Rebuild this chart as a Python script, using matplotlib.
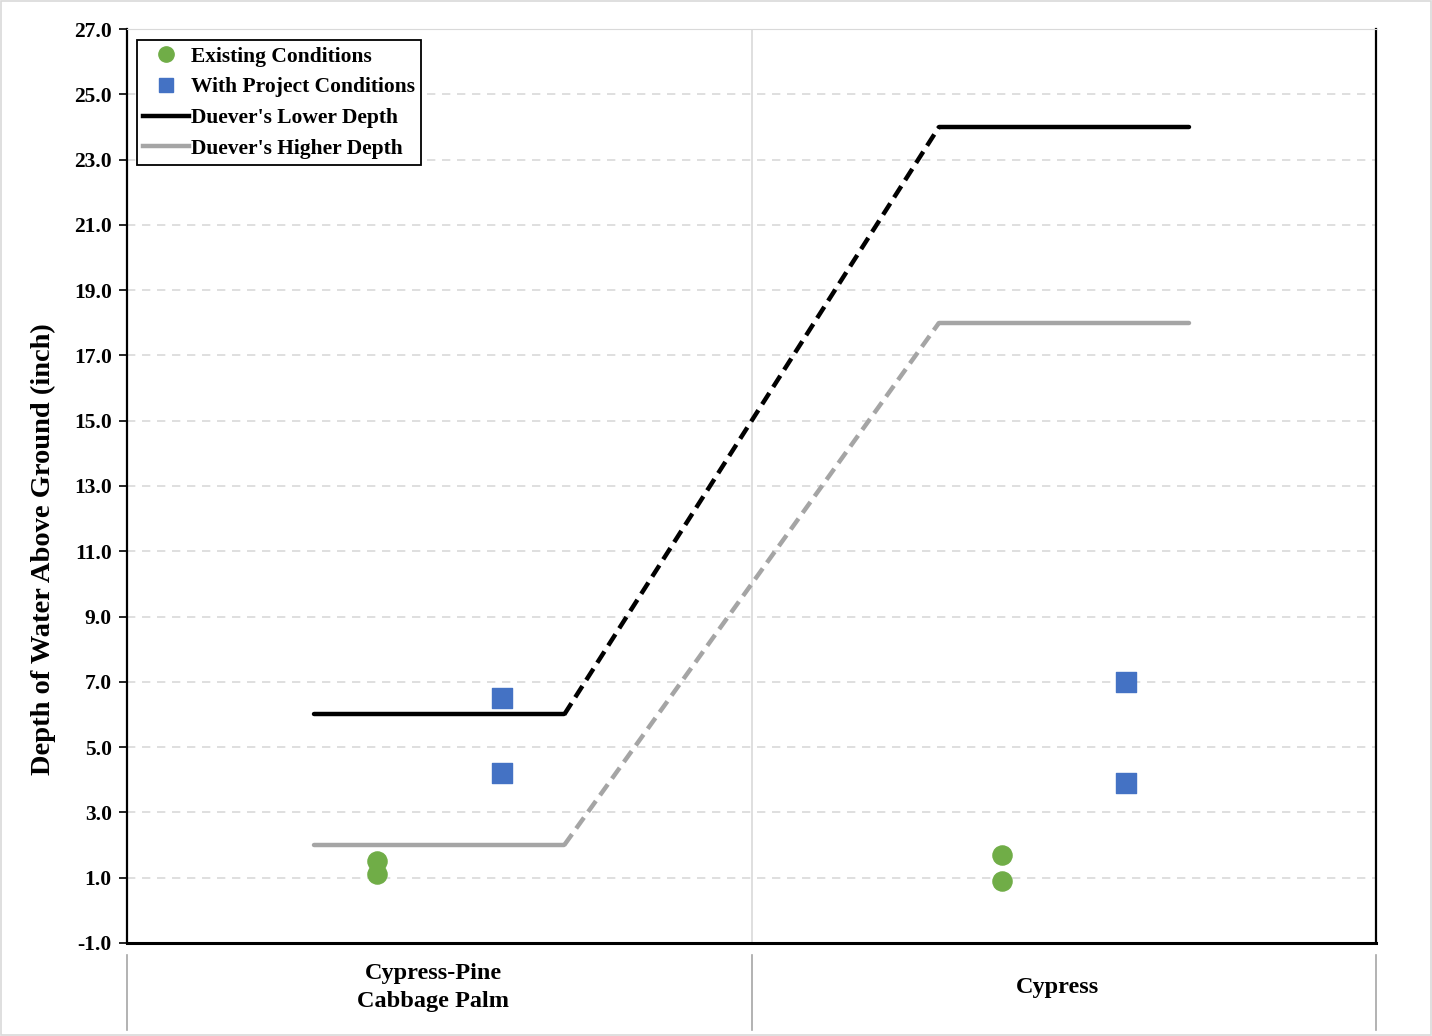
import matplotlib.pyplot as plt
from matplotlib.lines import Line2D
from matplotlib.transforms import blended_transform_factory

plt.rcParams["font.family"] = ["Liberation Serif", "DejaVu Serif"]
plt.rcParams["font.weight"] = "bold"

categories = ["Cypress-Pine\nCabbage Palm", "Cypress"]
existing = [[1.5, 1.1], [1.7, 0.9]]
with_project = [[6.5, 4.2], [7.0, 3.9]]
lower_depth = [6, 24]
higher_depth = [2, 18]
yticks = [-1, 1, 3, 5, 7, 9, 11, 13, 15, 17, 19, 21, 23, 25, 27]

GREEN = "#70AD47"
BLUE = "#4472C4"
GRAY = "#A5A5A5"

fig = plt.figure(figsize=(14.32, 10.36), dpi=100)
ax = fig.add_axes([0.0887, 0.0898, 0.8724, 0.8822])

# Duever depth steps: flat inside each category, dashed between
for vals, color in [(lower_depth, "black"), (higher_depth, GRAY)]:
    for i, v in enumerate(vals):
        ax.plot([i + 0.3, i + 0.7], [v, v], color=color, lw=3.2,
                solid_capstyle="round", zorder=3)
    ax.plot([0.7, 1.3], vals, color=color, lw=3.2, ls=(0, (3, 1.6)), zorder=3)

for i in range(len(categories)):
    ax.scatter([i + 0.4] * len(existing[i]), existing[i], s=190, marker="o",
               color=GREEN, zorder=4)
    ax.scatter([i + 0.6] * len(with_project[i]), with_project[i], s=190,
               marker="s", color=BLUE, zorder=4)

ax.set_xlim(0, len(categories))
ax.set_ylim(-1, 27)
ax.set_yticks(yticks)
ax.set_yticklabels([f"{t:.1f}" for t in yticks], fontsize=15.5, fontweight="bold")
ax.set_xticks([])
ax.yaxis.grid(True, color="#D9D9D9", ls=(0, (5, 4)), lw=1.2)
ax.set_axisbelow(True)
ax.axvline(1, color="#D9D9D9", lw=1.2, zorder=1)
ax.tick_params(axis="y", length=6, width=1.2, pad=5)

for side in ["left", "right", "bottom"]:
    ax.spines[side].set_linewidth(1.6)
ax.spines["bottom"].set_linewidth(2.2)
ax.spines["top"].set_color("#D9D9D9")

ax.set_ylabel("Depth of Water Above Ground (inch)", fontsize=20.5,
              fontweight="bold")
ax.yaxis.set_label_coords(-0.057, 0.431)

# category labels and separators below the axis
trans = blended_transform_factory(ax.transData, ax.transAxes)
for i in range(len(categories) + 1):
    ax.plot([i, i], [-0.013, -0.095], transform=trans, color=GRAY, lw=1.2,
            clip_on=False)
for i, cat in enumerate(categories):
    ax.text(i + 0.49, -0.049, cat, transform=trans, ha="center", va="center",
            fontsize=17.5, fontweight="bold", linespacing=1.45)

handles = [
    Line2D([], [], marker="o", ls="", color=GREEN, markersize=11),
    Line2D([], [], marker="s", ls="", color=BLUE, markersize=10),
    Line2D([], [], color="black", lw=3.2),
    Line2D([], [], color=GRAY, lw=3.2),
]
labels = ["Existing Conditions", "With Project Conditions",
          "Duever's Lower Depth", "Duever's Higher Depth"]
leg = ax.legend(handles, labels, loc="upper left", bbox_to_anchor=(0.008, 0.988),
                prop={"size": 15.5, "weight": "bold"}, fancybox=False,
                framealpha=1, edgecolor="black", handlelength=2.1,
                handletextpad=0.1, borderpad=0.3, labelspacing=0.5,
                borderaxespad=0)
leg.get_frame().set_linewidth(1.3)

fig.patches.append(plt.Rectangle((0.001, 0.001), 0.998, 0.998,
                                 transform=fig.transFigure, fill=False,
                                 edgecolor="#D9D9D9", lw=1.2))

fig.savefig("out.png", dpi=100, facecolor="white")
